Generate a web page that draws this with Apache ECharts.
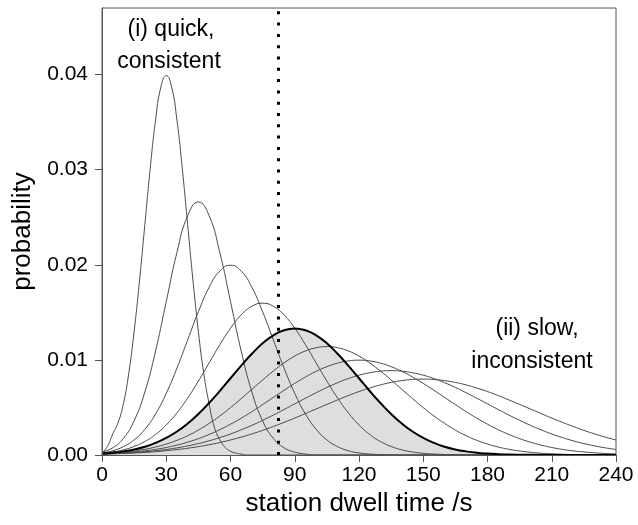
<!DOCTYPE html>
<html><head><meta charset="utf-8">
<script src="https://cdn.jsdelivr.net/npm/echarts@6/dist/echarts.min.js"></script>
<style>html,body{margin:0;padding:0;background:#fff}#c{width:638px;height:525px}</style>
</head><body><div id="c"></div>
<script>
// dwell time samples (s)
const xs = [0,5,10,15,20,25,30,35,40,45,50,55,60,65,70,75,80,85,90,95,100,105,110,115,120,125,130,135,140,145,150,155,160,165,170,175,180,185,190,195,200,205,210,215,220,225,230,235,240];
// finer samples for the narrowest curve
const xs30 = [0,2.5,5,7.5,10,12.5,15,17.5,20,22.5,25,27.5,30,32.5,35,37.5,40,42.5,45,47.5,50,52.5,55,57.5,60,62.5,65,67.5,70,240];
// probability curves (mode in name)
const c30 = [0.0002,0.0009,0.0022,0.0034,0.0054,0.0086,0.013,0.0183,0.0242,0.0301,0.0352,0.0387,0.0399,0.0387,0.0352,0.0301,0.0242,0.0183,0.013,0.0086,0.0054,0.0029,0.0016,0.0008,0.0004,0.0002,0.0001,0,0,0];
const c45 = [0.0003,0.00076,0.00175,0.0036,0.00662,0.01093,0.01613,0.0213,0.02516,0.0266,0.02516,0.0213,0.01613,0.01093,0.00662,0.0036,0.00175,0.00076,0.0003,0.0001,0,0,0,0,0,0,0,0,0,0,0,0,0,0,0,0,0,0,0,0,0,0,0,0,0,0,0,0,0];
const c60 = [0.00022,0.00045,0.00088,0.00159,0.0027,0.00431,0.00648,0.00914,0.0121,0.01506,0.01761,0.01933,0.01995,0.01933,0.01761,0.01506,0.0121,0.00914,0.00648,0.00431,0.0027,0.00159,0.00088,0.00045,0.00022,0.0001,0.00004,0,0,0,0,0,0,0,0,0,0,0,0,0,0,0,0,0,0,0,0,0,0];
const c75 = [0.00018,0.00032,0.00054,0.0009,0.00142,0.00216,0.00316,0.00444,0.00599,0.00777,0.00968,0.01159,0.01333,0.01473,0.01564,0.01596,0.01564,0.01473,0.01333,0.01159,0.00968,0.00777,0.00599,0.00444,0.00316,0.00216,0.00142,0.0009,0.00054,0.00032,0.00018,0.0001,0.00005,0.00002,0,0,0,0,0,0,0,0,0,0,0,0,0,0,0];
const c90 = [0.00015,0.00024,0.00038,0.00058,0.00087,0.00127,0.0018,0.00247,0.00331,0.00432,0.00547,0.00673,0.00807,0.0094,0.01065,0.01174,0.01258,0.01311,0.0133,0.01311,0.01258,0.01174,0.01065,0.0094,0.00807,0.00673,0.00547,0.00432,0.00331,0.00247,0.0018,0.00127,0.00087,0.00058,0.00038,0.00024,0.00015,0.00009,0.00005,0.00003,0.00002,0.00001,0,0,0,0,0,0,0];
const c105 = [0.00013,0.00019,0.00029,0.00042,0.0006,0.00084,0.00115,0.00154,0.00203,0.00262,0.00332,0.0041,0.00498,0.00593,0.00691,0.00789,0.00883,0.00968,0.0104,0.01094,0.01128,0.0114,0.01128,0.01094,0.0104,0.00968,0.00883,0.00789,0.00691,0.00593,0.00498,0.0041,0.00332,0.00262,0.00203,0.00154,0.00115,0.00084,0.0006,0.00042,0.00029,0.00019,0.00013,0.00008,0.00005,0.00003,0.00002,0.00001,0.00001];
const c120 = [0.00011,0.00016,0.00023,0.00032,0.00044,0.00059,0.00079,0.00104,0.00135,0.00172,0.00216,0.00266,0.00324,0.00387,0.00456,0.0053,0.00605,0.0068,0.00753,0.0082,0.0088,0.00929,0.00966,0.00989,0.00997,0.00989,0.00966,0.00929,0.0088,0.0082,0.00753,0.0068,0.00605,0.0053,0.00456,0.00387,0.00324,0.00266,0.00216,0.00172,0.00135,0.00104,0.00079,0.00059,0.00044,0.00032,0.00023,0.00016,0.00011];
const c135 = [0.0001,0.00014,0.00019,0.00025,0.00034,0.00045,0.00058,0.00075,0.00096,0.0012,0.00149,0.00183,0.00221,0.00265,0.00312,0.00365,0.0042,0.00478,0.00538,0.00597,0.00655,0.0071,0.0076,0.00804,0.00839,0.00865,0.00881,0.00887,0.00881,0.00865,0.00839,0.00804,0.0076,0.0071,0.00655,0.00597,0.00538,0.00478,0.0042,0.00365,0.00312,0.00265,0.00221,0.00183,0.00149,0.0012,0.00096,0.00075,0.00058];
const c150 = [0.00009,0.00012,0.00016,0.00021,0.00027,0.00035,0.00045,0.00057,0.00071,0.00088,0.00108,0.00131,0.00158,0.00188,0.00222,0.00259,0.003,0.00343,0.00388,0.00436,0.00484,0.00532,0.00579,0.00625,0.00667,0.00704,0.00737,0.00763,0.00782,0.00794,0.00798,0.00794,0.00782,0.00763,0.00737,0.00704,0.00667,0.00625,0.00579,0.00532,0.00484,0.00436,0.00388,0.00343,0.003,0.00259,0.00222,0.00188,0.00158];
const thresholdX = 82.2;
const yTicks = [0, 0.01, 0.02, 0.03, 0.04];
const xLabel = 'station dwell time /s';
const yLabel = 'probability';
const noteQuick = ['(i) quick,', 'consistent'];
const noteSlow = ['(ii) slow,', 'inconsistent'];

const FONT = '"Liberation Sans", Arial, Helvetica, sans-serif';
const AX = '#555';
function pairs(xv, ys){ return xv.map((x,i)=>[x, ys[i]]); }
const thinCurves = [[xs30, c30], [xs, c45], [xs, c60], [xs, c75], [xs, c105], [xs, c120], [xs, c135], [xs, c150]];

const chart = echarts.init(document.getElementById('c'), null, {renderer:'canvas'});
const series = [
  // shaded area under the bold curve
  {type:'line', data: pairs(xs, c90), smooth:true, symbol:'none', silent:true, z:1,
   lineStyle:{width:0, opacity:0}, areaStyle:{color:'#dedede', opacity:1}},
  // white mask: keeps the shading only right of the threshold
  {type:'line', data: [], silent:true, z:2,
   markArea:{silent:true, itemStyle:{color:'#fff', opacity:1}, label:{show:false},
     data:[[{xAxis:0, yAxis:0}, {xAxis:thresholdX, yAxis:0.016}]]}}
];
thinCurves.forEach(([xv, ys]) => series.push({
  type:'line', data: pairs(xv, ys), smooth:true, symbol:'none', silent:true, z:3,
  lineStyle:{color:'#4a4a4a', width:1}
}));
series.push({
  type:'line', data: pairs(xs, c90), smooth:true, symbol:'none', silent:true, z:4,
  lineStyle:{color:'#000', width:2},
  markLine:{silent:true, symbol:'none', label:{show:false},
    lineStyle:{color:'#000', width:3, type:[3,8.3], cap:'butt'},
    data:[{xAxis: thresholdX}]}
});

chart.setOption({
  animation:false,
  backgroundColor:'#fff',
  textStyle:{fontFamily:FONT},
  grid:{left:102, right:22, top:8, bottom:70, show:true, borderColor:AX, borderWidth:1, backgroundColor:'transparent'},
  xAxis:{type:'value', min:0, max:240, interval:30, z:10,
    name:xLabel, nameLocation:'middle', nameGap:34,
    nameTextStyle:{fontSize:26, color:'#000', fontFamily:FONT},
    axisLine:{show:true, lineStyle:{color:AX}},
    axisTick:{show:true, length:7, lineStyle:{color:AX}},
    axisLabel:{fontSize:21, color:'#000', margin:10, fontFamily:FONT},
    splitLine:{show:false}},
  yAxis:{type:'value', min:0, max:0.047, interval:0.01, z:10,
    name:yLabel, nameLocation:'middle', nameGap:66,
    nameTextStyle:{fontSize:26, color:'#000', fontFamily:FONT},
    axisLine:{show:true, lineStyle:{color:AX}},
    axisTick:{show:true, length:7, lineStyle:{color:AX}, customValues:yTicks},
    axisLabel:{fontSize:21, color:'#000', margin:14, fontFamily:FONT, customValues:yTicks,
      formatter: v => (Math.abs(v*100 - Math.round(v*100)) < 1e-6 ? v.toFixed(2) : '')},
    splitLine:{show:false}},
  graphic:[
    {type:'text', x:171, y:30, z:10, style:{text:noteQuick[0], font:'23px '+FONT, fill:'#000', textAlign:'center', textVerticalAlign:'middle', align:'center', verticalAlign:'middle'}},
    {type:'text', x:169, y:62, z:10, style:{text:noteQuick[1], font:'23px '+FONT, fill:'#000', textAlign:'center', textVerticalAlign:'middle', align:'center', verticalAlign:'middle'}},
    {type:'text', x:537, y:329, z:10, style:{text:noteSlow[0], font:'23px '+FONT, fill:'#000', textAlign:'center', textVerticalAlign:'middle', align:'center', verticalAlign:'middle'}},
    {type:'text', x:532, y:362, z:10, style:{text:noteSlow[1], font:'23px '+FONT, fill:'#000', textAlign:'center', textVerticalAlign:'middle', align:'center', verticalAlign:'middle'}}
  ],
  series: series
});
</script></body></html>
